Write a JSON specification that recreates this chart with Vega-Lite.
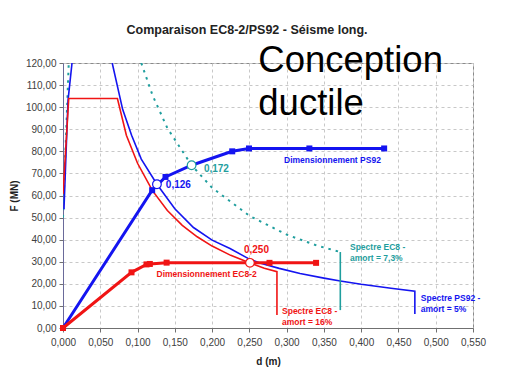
{
  "$schema": "https://vega.github.io/schema/vega-lite/v6.json",
  "width": 410,
  "height": 265,
  "autosize": "none",
  "padding": {"left": 63, "top": 63, "right": 35, "bottom": 42},
  "background": "white",
  "title": {"text": "Comparaison EC8-2/PS92 - Séisme long.", "fontSize": 12.5, "fontWeight": "bold", "font": "Liberation Sans", "color": "#222222", "offset": 7, "anchor": "middle", "dx": -21},
  "config": {
    "view": {"stroke": "#8a8a8a", "strokeWidth": 1},
    "axis": {"labelFont": "Liberation Sans", "labelFontSize": 10, "labelColor": "#404040", "titleFont": "Liberation Sans", "titleFontSize": 10, "titleFontWeight": "bold", "titleColor": "#222222", "gridColor": "#c8c8c8", "gridDash": [3, 3], "tickColor": "#707070", "tickSize": 4, "domainColor": "#707070", "labelFlush": false, "labelOverlap": false}
  },
  "datasets": {
    "lines": [
      {"s": "ps92L", "d": 0.0013, "F": 53.8, "o": 1},
      {"s": "ps92L", "d": 0.0067, "F": 103, "o": 2},
      {"s": "ps92L", "d": 0.0121, "F": 120, "o": 3},
      {"s": "ps92R", "d": 0.066, "F": 120, "o": 1},
      {"s": "ps92R", "d": 0.08, "F": 99, "o": 2},
      {"s": "ps92R", "d": 0.092, "F": 87.3, "o": 3},
      {"s": "ps92R", "d": 0.105, "F": 76.5, "o": 4},
      {"s": "ps92R", "d": 0.126, "F": 65.1, "o": 5},
      {"s": "ps92R", "d": 0.15, "F": 54, "o": 6},
      {"s": "ps92R", "d": 0.175, "F": 45.5, "o": 7},
      {"s": "ps92R", "d": 0.2, "F": 39.8, "o": 8},
      {"s": "ps92R", "d": 0.224, "F": 36, "o": 9},
      {"s": "ps92R", "d": 0.25, "F": 31.2, "o": 10},
      {"s": "ps92R", "d": 0.264, "F": 29.4, "o": 11},
      {"s": "ps92R", "d": 0.29, "F": 27, "o": 12},
      {"s": "ps92R", "d": 0.318, "F": 24.7, "o": 13},
      {"s": "ps92R", "d": 0.35, "F": 22.6, "o": 14},
      {"s": "ps92R", "d": 0.372, "F": 21.3, "o": 15},
      {"s": "ps92R", "d": 0.4, "F": 19.8, "o": 16},
      {"s": "ps92R", "d": 0.44, "F": 18, "o": 17},
      {"s": "ps92R", "d": 0.472, "F": 16.7, "o": 18},
      {"s": "ps92R", "d": 0.472, "F": 6.3, "o": 19},
      {"s": "ec8", "d": 0.0, "F": 60.6, "o": 1},
      {"s": "ec8", "d": 0.0077, "F": 103.9, "o": 2},
      {"s": "ec8", "d": 0.073, "F": 103.9, "o": 3},
      {"s": "ec8", "d": 0.085, "F": 87.3, "o": 4},
      {"s": "ec8", "d": 0.1, "F": 74.6, "o": 5},
      {"s": "ec8", "d": 0.12, "F": 62.2, "o": 6},
      {"s": "ec8", "d": 0.14, "F": 53.2, "o": 7},
      {"s": "ec8", "d": 0.16, "F": 46.5, "o": 8},
      {"s": "ec8", "d": 0.18, "F": 41.3, "o": 9},
      {"s": "ec8", "d": 0.2, "F": 37.1, "o": 10},
      {"s": "ec8", "d": 0.225, "F": 32.9, "o": 11},
      {"s": "ec8", "d": 0.25, "F": 29.6, "o": 12},
      {"s": "ec8", "d": 0.27, "F": 27.1, "o": 13},
      {"s": "ec8", "d": 0.287, "F": 25.5, "o": 14},
      {"s": "ec8", "d": 0.287, "F": 5.9, "o": 15},
      {"s": "tealV", "d": 0.372, "F": 34.4, "o": 1},
      {"s": "tealV", "d": 0.372, "F": 8.1, "o": 2}
    ],
    "dashed": [
      {"s": "teal", "d": 0.105, "F": 120, "o": 1},
      {"s": "teal", "d": 0.12, "F": 105.5, "o": 2},
      {"s": "teal", "d": 0.14, "F": 90.5, "o": 3},
      {"s": "teal", "d": 0.1725, "F": 73.7, "o": 4},
      {"s": "teal", "d": 0.2, "F": 63.5, "o": 5},
      {"s": "teal", "d": 0.25, "F": 50.8, "o": 6},
      {"s": "teal", "d": 0.3, "F": 42.3, "o": 7},
      {"s": "teal", "d": 0.34, "F": 37.4, "o": 8},
      {"s": "teal", "d": 0.372, "F": 34.4, "o": 9},
      {"s": "tealL", "d": 0.0, "F": 50, "o": 1},
      {"s": "tealL", "d": 0.0077, "F": 120, "o": 2}
    ],
    "capacity": [
      {"s": "capPS", "d": 0, "F": 0, "o": 1},
      {"s": "capPS", "d": 0.1196, "F": 62.4, "o": 2},
      {"s": "capPS", "d": 0.1375, "F": 68.4, "o": 3},
      {"s": "capPS", "d": 0.1725, "F": 73.7, "o": 4},
      {"s": "capPS", "d": 0.227, "F": 80, "o": 5},
      {"s": "capPS", "d": 0.2495, "F": 81.3, "o": 6},
      {"s": "capPS", "d": 0.3305, "F": 81.3, "o": 7},
      {"s": "capPS", "d": 0.4308, "F": 81.3, "o": 8},
      {"s": "capEC", "d": 0, "F": 0, "o": 1},
      {"s": "capEC", "d": 0.0919, "F": 25.2, "o": 2},
      {"s": "capEC", "d": 0.112, "F": 28.8, "o": 3},
      {"s": "capEC", "d": 0.1165, "F": 29, "o": 4},
      {"s": "capEC", "d": 0.139, "F": 29.6, "o": 5},
      {"s": "capEC", "d": 0.2508, "F": 29.5, "o": 6},
      {"s": "capEC", "d": 0.277, "F": 29.5, "o": 7},
      {"s": "capEC", "d": 0.3395, "F": 29.5, "o": 8}
    ],
    "squares": [
      {"s": "capPS", "d": 0.1196, "F": 62.4},
      {"s": "capPS", "d": 0.1375, "F": 68.4},
      {"s": "capPS", "d": 0.227, "F": 80},
      {"s": "capPS", "d": 0.2495, "F": 81.3},
      {"s": "capPS", "d": 0.3305, "F": 81.3},
      {"s": "capPS", "d": 0.4308, "F": 81.3},
      {"s": "capEC", "d": 0, "F": 0},
      {"s": "capEC", "d": 0.0919, "F": 25.2},
      {"s": "capEC", "d": 0.112, "F": 28.8},
      {"s": "capEC", "d": 0.1165, "F": 29},
      {"s": "capEC", "d": 0.139, "F": 29.6},
      {"s": "capEC", "d": 0.277, "F": 29.5},
      {"s": "capEC", "d": 0.3395, "F": 29.5}
    ],
    "circles": [
      {"s": "ps92R", "d": 0.126, "F": 65.1},
      {"s": "teal", "d": 0.1725, "F": 73.7},
      {"s": "ec8", "d": 0.2508, "F": 29.5}
    ],
    "labels": [
      {"s": "ps92R", "d": 0.138, "F": 64.7, "t": "0,126", "z": 10},
      {"s": "teal", "d": 0.189, "F": 71.9, "t": "0,172", "z": 10},
      {"s": "ec8", "d": 0.2427, "F": 35.3, "t": "0,250", "z": 10},
      {"s": "ps92R", "d": 0.2965, "F": 76.3, "t": "Dimensionnement PS92", "z": 8.5},
      {"s": "ec8", "d": 0.1255, "F": 24.4, "t": "Dimensionnement EC8-2", "z": 8.5},
      {"s": "teal", "d": 0.385, "F": 36.8, "t": "Spectre EC8 -", "z": 8.5},
      {"s": "teal", "d": 0.385, "F": 31.8, "t": "amort = 7,3%", "z": 8.5},
      {"s": "ec8", "d": 0.2938, "F": 7.7, "t": "Spectre EC8 -", "z": 8.5},
      {"s": "ec8", "d": 0.2938, "F": 2.85, "t": "amort = 16%", "z": 8.5},
      {"s": "ps92R", "d": 0.48, "F": 13.6, "t": "Spectre PS92 -", "z": 8.5},
      {"s": "ps92R", "d": 0.48, "F": 8.6, "t": "amort = 5%", "z": 8.5}
    ],
    "big": [
      {"d": 0.262, "F": 115.8, "t": "Conception"},
      {"d": 0.262, "F": 96.3, "t": "ductile"}
    ]
  },
  "encoding": {
    "x": {"field": "d", "type": "quantitative", "scale": {"domain": [0, 0.55], "nice": false, "padding": 0, "zero": false}, "title": "d (m)",
      "axis": {"values": [0, 0.05, 0.1, 0.15, 0.2, 0.25, 0.3, 0.35, 0.4, 0.45, 0.5, 0.55], "labelExpr": "replace(format(datum.value, '.3f'), '.', ',')", "labelPadding": 5, "titlePadding": 9}},
    "y": {"field": "F", "type": "quantitative", "scale": {"domain": [0, 120], "nice": false, "padding": 0, "zero": false}, "title": "F (MN)",
      "axis": {"values": [0, 10, 20, 30, 40, 50, 60, 70, 80, 90, 100, 110, 120], "labelExpr": "replace(format(datum.value, '.2f'), '.', ',')", "labelPadding": 3, "titlePadding": 6, "domainColor": "#6a6a9a"}},
    "color": {"field": "s", "type": "nominal", "legend": null,
      "scale": {"domain": ["ps92L", "ps92R", "ec8", "teal", "tealL", "tealV", "capPS", "capEC"],
                "range": ["#1414f0", "#1414f0", "#f01414", "#1f9e9e", "#1f9e9e", "#1f9e9e", "#1414f0", "#f01414"]}}
  },
  "layer": [
    {"data": {"name": "dashed"}, "mark": {"type": "line", "strokeWidth": 2, "strokeDash": [2.5, 5], "clip": true},
     "encoding": {"detail": {"field": "s"}, "order": {"field": "o", "type": "quantitative"}}},
    {"data": {"name": "lines"}, "mark": {"type": "line", "strokeWidth": 1.6, "clip": true},
     "encoding": {"detail": {"field": "s"}, "order": {"field": "o", "type": "quantitative"}}},
    {"data": {"name": "capacity"}, "mark": {"type": "line", "strokeWidth": 3},
     "encoding": {"detail": {"field": "s"}, "order": {"field": "o", "type": "quantitative"}}},
    {"data": {"name": "squares"}, "mark": {"type": "point", "shape": "square", "filled": true, "size": 36, "opacity": 1}},
    {"data": {"name": "circles"}, "mark": {"type": "point", "shape": "circle", "filled": false, "fill": "white", "size": 75, "strokeWidth": 1.2, "opacity": 1}},
    {"data": {"name": "labels"}, "mark": {"type": "text", "align": "left", "baseline": "middle", "font": "Liberation Sans", "fontWeight": "bold"},
     "encoding": {"text": {"field": "t"}, "size": {"field": "z", "type": "quantitative", "scale": null}}},
    {"data": {"name": "big"}, "mark": {"type": "text", "align": "left", "baseline": "alphabetic", "font": "Liberation Sans", "fontSize": 36.5, "color": "black"},
     "encoding": {"text": {"field": "t"}, "color": {"value": "black"}}}
  ]
}
